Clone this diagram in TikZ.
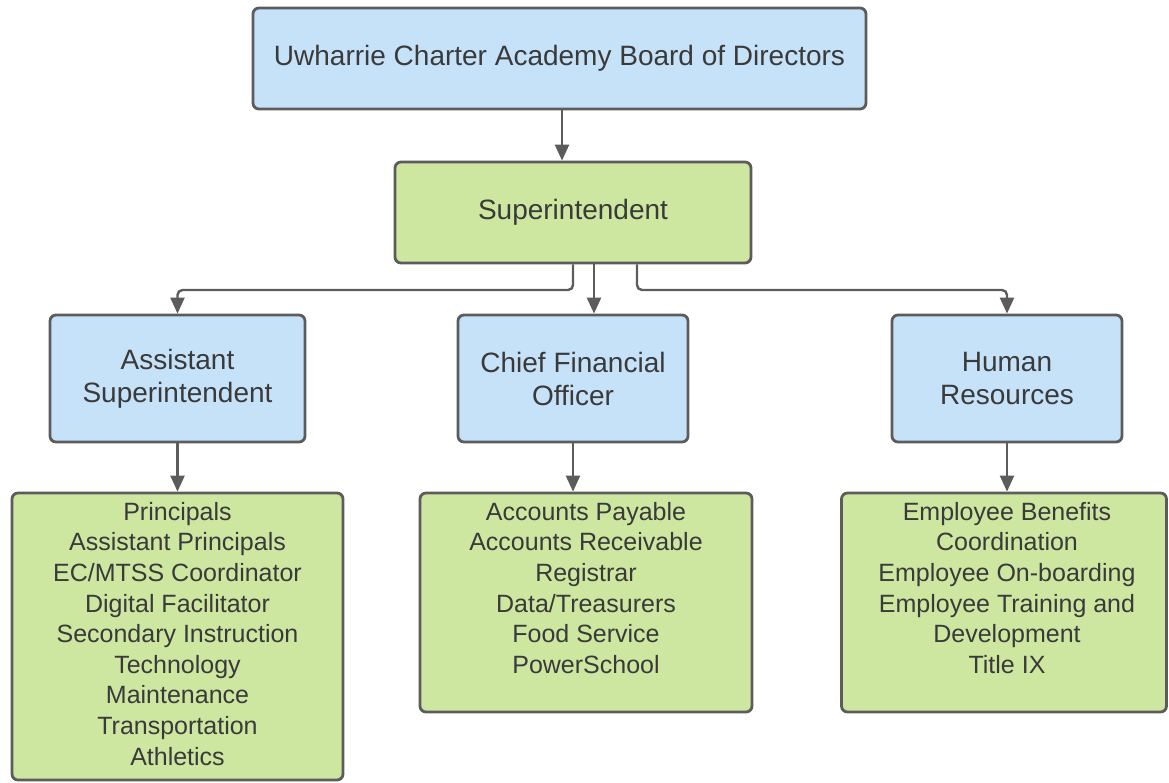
\documentclass[tikz,border=0pt]{standalone}
\usepackage{fontspec}
\setmainfont{Liberation Sans}
\usetikzlibrary{arrows.meta}
\definecolor{bluefill}{HTML}{C6E2F9}
\definecolor{greenfill}{HTML}{CDE6A0}
\definecolor{edgecol}{HTML}{5C5C5C}
\definecolor{txtcol}{HTML}{3A3A3A}
\tikzset{
  box/.style={draw=edgecol, line width=2.8pt, rounded corners=6pt, inner sep=0pt},
  bluebox/.style={box, fill=bluefill},
  greenbox/.style={box, fill=greenfill},
  head/.style={text=txtcol, font=\fontsize{28}{33}\selectfont, align=center},
  list/.style={text=txtcol, font=\fontsize{25}{30.6}\selectfont, align=center, inner sep=0pt, anchor=north},
  arr/.style={draw=edgecol, line width=2.4pt, -{Triangle[length=16pt,width=14pt]}}
}
\begin{document}
\begin{tikzpicture}[x=1pt,y=-1pt]
\useasboundingbox (0,0) rectangle (1169,782);
% boxes
\node[bluebox, minimum width=613pt, minimum height=101pt, head] (board) at (559.5,58.5) {Uwharrie Charter Academy Board of Directors};
\node[greenbox, minimum width=356pt, minimum height=101pt, head] (super) at (573,212.5) {Superintendent};
\node[bluebox, minimum width=255pt, minimum height=127pt, head] (asst) at (177.5,378.5) {Assistant\\Superintendent};
\node[bluebox, minimum width=230pt, minimum height=127pt, head] (cfo) at (573,378.5) {Chief Financial\\Officer};
\node[bluebox, minimum width=230pt, minimum height=127pt, head] (hr) at (1007,378.5) {Human\\Resources};
\node[greenbox, minimum width=331pt, minimum height=287pt] (g1) at (177.5,636.5) {};
\node[greenbox, minimum width=332pt, minimum height=219pt] (g2) at (586,602.5) {};
\node[greenbox, minimum width=325pt, minimum height=219pt] (g3) at (1004,602.5) {};
% list texts
\node[list] (t1) at (177.5,502) {Principals\\Assistant Principals\\EC/MTSS Coordinator\\Digital Facilitator\\Secondary Instruction\\Technology\\Maintenance\\Transportation\\Athletics};
\node[list] (t2) at (586,502) {Accounts Payable\\Accounts Receivable\\Registrar\\Data/Treasurers\\Food Service\\PowerSchool};
\node[list] (t3) at (1007,502) {Employee Benefits\\Coordination\\Employee On-boarding\\Employee Training and\\Development\\Title IX};
% helper coordinates
\coordinate (c0) at (562,0);
\coordinate (cl) at (573,0);
\coordinate (cm) at (594,0);
\coordinate (cr) at (637,0);
\coordinate (hy) at (0,290);
% connectors
\draw[arr] (board.south -| c0) -- (super.north -| c0);
\draw[arr, rounded corners=5pt] (super.south -| cl) |- (asst.north |- hy) -- (asst.north);
\draw[arr] (super.south -| cm) -- (cfo.north -| cm);
\draw[arr, rounded corners=5pt] (super.south -| cr) |- (hr.north |- hy) -- (hr.north);
\draw[arr] (asst.south) -- (asst.south |- g1.north);
\draw[arr] (cfo.south) -- (cfo.south |- g2.north);
\draw[arr] (hr.south) -- (hr.south |- g3.north);
\end{tikzpicture}
\end{document}
